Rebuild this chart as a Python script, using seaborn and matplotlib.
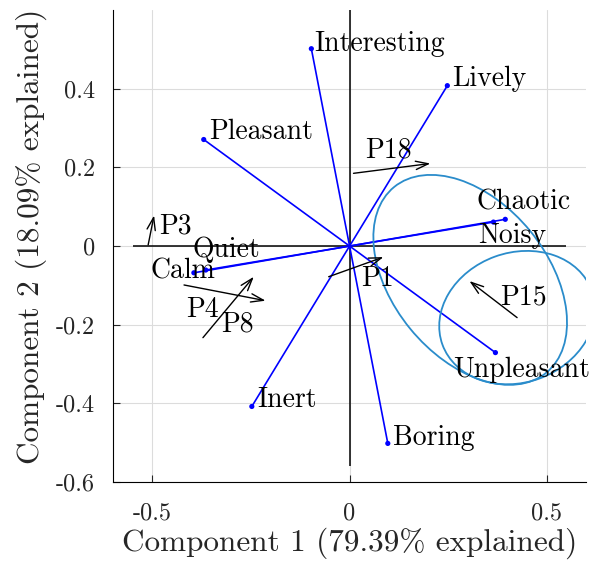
import numpy as np
import pandas as pd
import matplotlib
matplotlib.use("Agg")
import matplotlib.pyplot as plt
from matplotlib.patches import Ellipse
import seaborn as sns

# variable loadings (blue vectors)
var_names = ["Interesting", "Lively", "Pleasant", "Chaotic", "Noisy",
             "Quiet", "Calm", "Inert", "Boring", "Unpleasant"]
var_x = [-0.097, 0.248, -0.370, 0.395, 0.365, -0.365, -0.395, -0.248, 0.097, 0.370]
var_y = [0.502, 0.408, 0.271, 0.068, 0.061, -0.061, -0.068, -0.408, -0.502, -0.271]

# observation shifts (black arrows)
obs_names = ["P1", "P3", "P4", "P8", "P15", "P18"]
obs_x0 = [-0.053, -0.511, -0.420, -0.372, 0.425, 0.010]
obs_y0 = [-0.078, 0.003, -0.099, -0.233, -0.182, 0.185]
obs_x1 = [0.086, -0.496, -0.213, -0.243, 0.304, 0.205]
obs_y1 = [-0.028, 0.078, -0.139, -0.078, -0.089, 0.210]

# confidence ellipses
ell_cx = [0.306, 0.425]
ell_cy = [-0.086, -0.182]
ell_w = [0.610, 0.403]
ell_h = [0.393, 0.330]
ell_ang = [-50.8, 20.0]

# label offsets in pixels (style only)
var_off = {"Interesting": (3, 5), "Lively": (5, 7), "Pleasant": (5, 8),
           "Chaotic": (-29, 17), "Noisy": (-15, -14), "Quiet": (-13, 20),
           "Calm": (-43, 1), "Inert": (5, 7), "Boring": (5, 6),
           "Unpleasant": (-42, -17)}
obs_off = {"P1": (32, -2), "P3": (11, 19), "P4": (2, -25), "P8": (18, 13),
           "P15": (-17, 20), "P18": (12, 23)}

sns.set_style("ticks")
plt.rcParams["font.family"] = ["cmr10", "DejaVu Serif"]
plt.rcParams["axes.unicode_minus"] = False
plt.rcParams["mathtext.fontset"] = "cm"
plt.rcParams["axes.formatter.use_mathtext"] = True

fig = plt.figure(figsize=(5.92, 5.65), dpi=100)
ax = fig.add_axes([0.191, 0.147, 0.799, 0.835])

ax.set_xlim(-0.6, 0.6)
ax.set_ylim(-0.6, 0.6)
ax.set_xticks([-0.5, 0, 0.5])
ax.set_xticklabels(["-0.5", "0", "0.5"])
ax.set_yticks([-0.6, -0.4, -0.2, 0, 0.2, 0.4])
ax.set_yticklabels(["-0.6", "-0.4", "-0.2", "0", "0.2", "0.4"])
ax.grid(True, color="#dcdcdc", lw=0.8)
ax.set_axisbelow(True)

# axis lines through the origin
ax.hlines(0, -0.55, 0.55, color="black", lw=1.1, zorder=2)
ax.vlines(0, -0.56, 0.6, color="black", lw=1.1, zorder=2)

# vectors
seg = pd.DataFrame({
    "name": np.repeat(var_names, 2),
    "x": np.ravel(np.column_stack([np.zeros(len(var_x)), var_x])),
    "y": np.ravel(np.column_stack([np.zeros(len(var_y)), var_y])),
})
sns.lineplot(data=seg, x="x", y="y", units="name", estimator=None, sort=False,
             color="blue", lw=1.2, ax=ax, zorder=3)
sns.scatterplot(x=var_x, y=var_y, color="blue", s=14, edgecolor="none", ax=ax, zorder=4)

for n, x, y in zip(var_names, var_x, var_y):
    ax.annotate(n, (x, y), xytext=var_off[n], textcoords="offset pixels",
                ha="left", va="center", fontsize=20, color="black", zorder=5)

# ellipses
for cx, cy, w, h, a in zip(ell_cx, ell_cy, ell_w, ell_h, ell_ang):
    ax.add_patch(Ellipse((cx, cy), w, h, angle=a, fill=False,
                         edgecolor="#2a8ccb", lw=1.3, zorder=3))

# observation arrows
for n, x0, y0, x1, y1 in zip(obs_names, obs_x0, obs_y0, obs_x1, obs_y1):
    ax.annotate("", xy=(x1, y1), xytext=(x0, y0),
                arrowprops=dict(arrowstyle="->,head_length=0.9,head_width=0.3",
                                color="black", lw=1.0, shrinkA=0, shrinkB=0),
                zorder=5)
    ax.annotate(n, (x0, y0), xytext=obs_off[n], textcoords="offset pixels",
                ha="left", va="center", fontsize=20, color="black", zorder=5)

sns.despine(ax=ax)
ax.spines["left"].set_color("black")
ax.spines["bottom"].set_color("black")
ax.tick_params(direction="in", length=5, width=0.8, labelsize=17.5,
               colors="#262626")
ax.tick_params(axis="y", pad=13)
ax.tick_params(axis="x", pad=15)
ax.set_xlabel("Component 1 (79.39% explained)", fontsize=22.5, color="#262626", labelpad=2)
ax.set_ylabel("Component 2 (18.09% explained)", fontsize=22.5, color="#262626")
ax.yaxis.set_label_coords(-0.14, 0.52)

fig.savefig("out.png", dpi=100)
